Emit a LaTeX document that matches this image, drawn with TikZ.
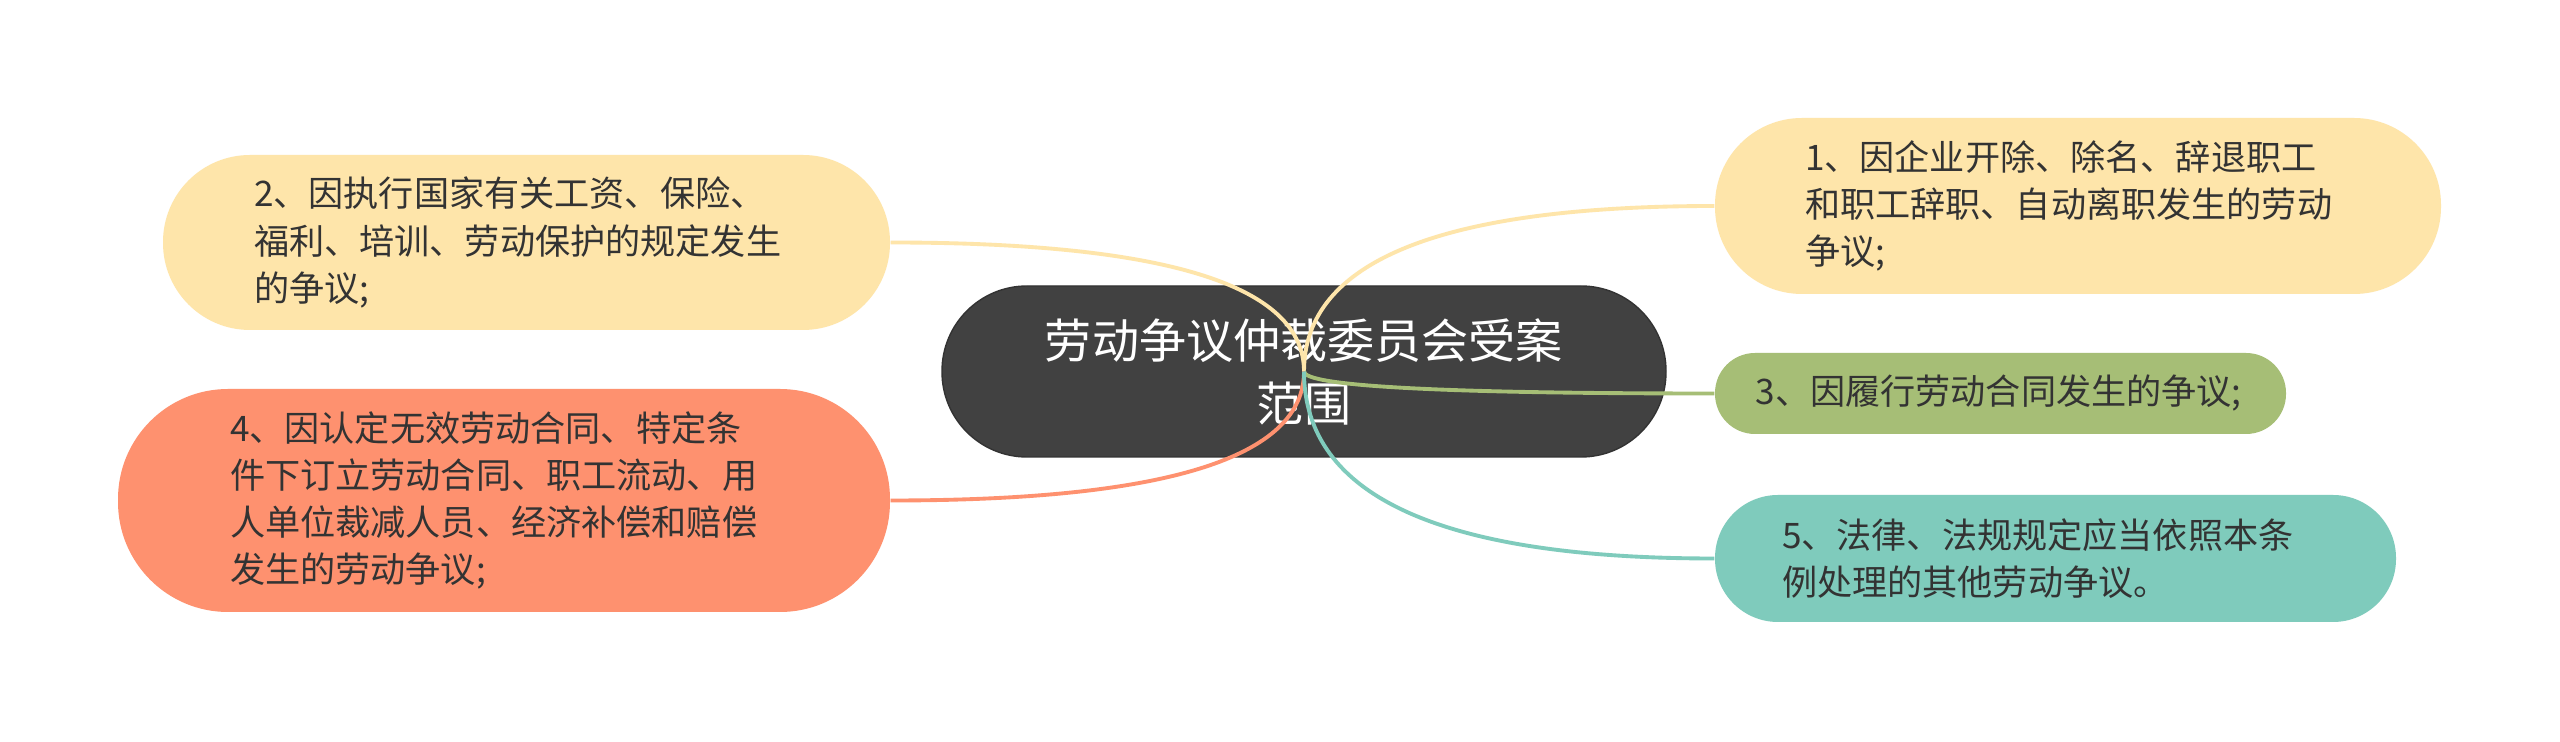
\documentclass[tikz,border=0pt]{standalone}
\usepackage{fontspec}
\usetikzlibrary{calc}
\newfontfamily\cjk{Noto Sans CJK SC}
\definecolor{mainfill}{HTML}{414141}
\definecolor{ideayellow}{HTML}{FEE5AA}
\definecolor{ideagreen}{HTML}{A6BE76}
\definecolor{ideaorange}{HTML}{FE916F}
\definecolor{ideateal}{HTML}{7FCBBC}
\definecolor{inktext}{HTML}{333333}
\begin{document}
\begin{tikzpicture}[
    topic/.style={rounded corners=0.85cm, draw=black!80, fill=mainfill, text=white, align=center,
        minimum width=7.24cm, minimum height=1.71cm, font=\cjk\fontsize{13.4}{17.9}\selectfont},
    idea/.style={align=left, text=inktext, inner ysep=0pt, font=\cjk\fontsize{10}{13.4}\selectfont},
    link/.style={line width=1.1pt}
]
\fill[white] (0,0) rectangle (25.6,7.42);
\useasboundingbox (0,0) rectangle (25.6,7.42);

\node[topic] (main) at (13.04, 3.705) {劳动争议仲裁委员会受案\\范围};

\node[idea, fill=ideayellow, text width=5.46cm, inner xsep=0.9cm, minimum height=1.76cm, rounded corners=0.87cm]
    (n1) at (20.78, 5.36) {1、因企业开除、除名、辞退职工\\和职工辞职、自动离职发生的劳动\\争议;};
\node[idea, fill=ideayellow, text width=5.45cm, inner xsep=0.91cm, minimum height=1.75cm, rounded corners=0.87cm]
    (n2) at (5.265, 4.995) {2、因执行国家有关工资、保险、\\福利、培训、劳动保护的规定发生\\的争议;};
\node[idea, fill=ideagreen, text width=4.9cm, inner xsep=0.405cm, minimum height=0.81cm, rounded corners=0.4cm]
    (n3) at (20.005, 3.485) {3、因履行劳动合同发生的争议;};
\node[idea, fill=ideaorange, text width=5.48cm, inner xsep=1.12cm, minimum height=2.23cm, rounded corners=1.1cm]
    (n4) at (5.04, 2.415) {4、因认定无效劳动合同、特定条\\件下订立劳动合同、职工流动、用\\人单位裁减人员、经济补偿和赔偿\\发生的劳动争议;};
\node[idea, fill=ideateal, text width=5.47cm, inner xsep=0.67cm, minimum height=1.27cm, rounded corners=0.63cm]
    (n5) at (20.555, 1.835) {5、法律、法规规定应当依照本条\\例处理的其他劳动争议。};

% branches from the centre (quadratic bends)
\draw[link, ideayellow] (main.center) .. controls ($(main.center)!0.667!(main.center |- n1.west)$) and ($(n1.west)!0.667!(main.center |- n1.west)$) .. (n1.west);
\draw[link, ideayellow] (main.center) .. controls ($(main.center)!0.667!(main.center |- n2.east)$) and ($(n2.east)!0.667!(main.center |- n2.east)$) .. (n2.east);
\draw[link, ideagreen] (main.center) .. controls ($(main.center)!0.667!(main.center |- n3.west)$) and ($(n3.west)!0.667!(main.center |- n3.west)$) .. (n3.west);
\draw[link, ideaorange] (main.center) .. controls ($(main.center)!0.667!(main.center |- n4.east)$) and ($(n4.east)!0.667!(main.center |- n4.east)$) .. (n4.east);
\draw[link, ideateal] (main.center) .. controls ($(main.center)!0.667!(main.center |- n5.west)$) and ($(n5.west)!0.667!(main.center |- n5.west)$) .. (n5.west);
\end{tikzpicture}
\end{document}
